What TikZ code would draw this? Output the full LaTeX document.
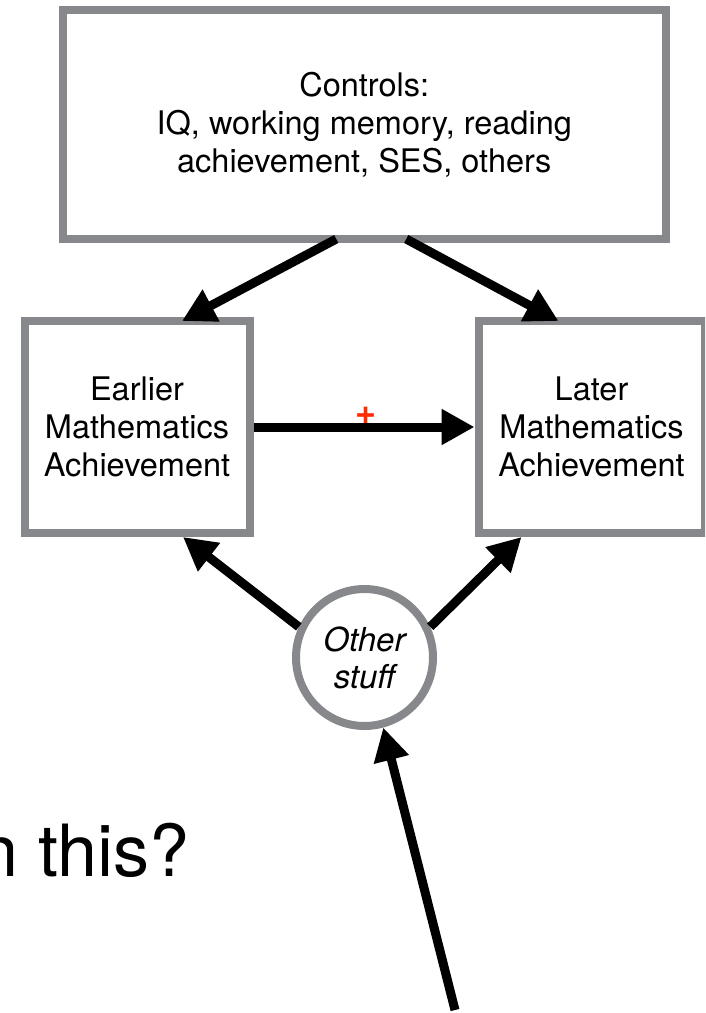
\documentclass[tikz,border=0pt]{standalone}
\usepackage{fontspec}
\setmainfont{TeX Gyre Heros}
\usetikzlibrary{arrows.meta,calc}
\definecolor{boxgray}{HTML}{86888B}
\definecolor{plusred}{HTML}{FF2A00}
\tikzset{
  box/.style={draw=boxgray, line width=8pt, fill=white, align=center,
    font=\fontsize{32.5}{38}\selectfont, inner sep=0pt},
  conn/.style={line width=9pt, -{Triangle[length=33pt,width=34pt]}},
}
\begin{document}
\begin{tikzpicture}[x=1pt,y=-1pt]
\useasboundingbox (0,0) rectangle (705,1013);
\clip (0,0) rectangle (705,1013);
\node[box, minimum width=602.5pt, minimum height=229pt] (ctrl) at (364.25,124.5)
  {Controls:\\IQ, working memory, reading\\achievement, SES, others};
\node[box, minimum width=225pt, minimum height=212pt] (early) at (137,427)
  {Earlier\\Mathematics\\Achievement};
\node[box, minimum width=226pt, minimum height=212pt] (late) at (591.5,427)
  {Later\\Mathematics\\Achievement};
\node[box, shape=circle, minimum size=137pt, font=\fontsize{33}{37}\selectfont\itshape] (other) at (364.5,657.5)
  {Other\\stuff};
\node[text=plusred, inner sep=0pt, font=\fontsize{36}{36}\selectfont\bfseries] (plus) at (366,416) {+};
\node[anchor=base east, inner sep=0pt, font=\fontsize{72}{72}\selectfont] (q) at (190,876) {n this?};
\coordinate (tail) at (455,1010);
\draw[conn] ($(ctrl.south)+(-28,-4)$) -- ($(early.north)+(45,4)$);
\draw[conn] ($(ctrl.south)+(42,-4)$) -- ($(late.north)+(-33,4)$);
\draw[conn] (early.east) -- (late.west);
\draw[conn] (other.155) -- ($(early.south)+(46,0)$);
\draw[conn] (other.25) -- ($(late.south)+(-70,0)$);
\draw[conn] (tail) -- (other.-75);
\end{tikzpicture}
\end{document}
